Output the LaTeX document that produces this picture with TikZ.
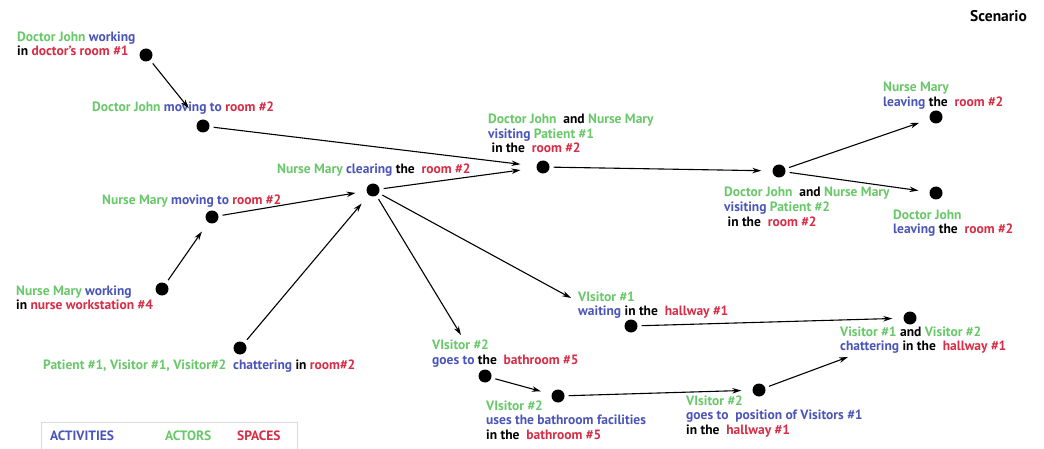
\documentclass[tikz,border=0pt]{standalone}
\usepackage{fontspec}
\setmainfont{PT Sans}
\usetikzlibrary{arrows.meta}
\definecolor{actorgreen}{RGB}{105,200,105}
\definecolor{actblue}{RGB}{75,85,185}
\definecolor{spacered}{RGB}{215,45,70}
\newcommand{\actr}[1]{\textcolor{actorgreen}{#1}}
\newcommand{\actv}[1]{\textcolor{actblue}{#1}}
\newcommand{\spce}[1]{\textcolor{spacered}{#1}}
\tikzset{
  event/.style={circle,fill=black,inner sep=0pt,minimum size=13pt},
  lbl/.style={anchor=base west,align=left,inner sep=0pt,font=\fontsize{13.5}{14.5}\selectfont\bfseries},
  flow/.style={-{Stealth[length=9pt,width=5.5pt]},line width=1.1pt,shorten <=4pt,shorten >=11pt}
}
\begin{document}
\begin{tikzpicture}[x=1pt,y=-1pt]
 \useasboundingbox[fill=white] (0,0) rectangle (1044,449);
 \node[event] (dw) at (146,55) {};
 \node[event] (dm) at (203,126) {};
 \node[event] (vp1) at (543,167) {};
 \node[event] (nc) at (373,190) {};
 \node[event] (nm) at (212,217) {};
 \node[event] (nw) at (162,289) {};
 \node[event] (pc) at (240,348) {};
 \node[event] (vp2) at (779,171) {};
 \node[event] (nl) at (936,117) {};
 \node[event] (dl) at (936,193) {};
 \node[event] (vw) at (631,326) {};
 \node[event] (vb) at (485,376) {};
 \node[event] (vu) at (558,396) {};
 \node[event] (vg) at (759,390) {};
 \node[event] (vc) at (910,318) {};
 \coordinate (tvw) at (571,298);
 \coordinate (tvb) at (461,335);
 \coordinate (tvc) at (848,357);
 \node[lbl] (ldw) at (17,56) {\actr{Doctor John} \actv{working}\\in \spce{doctor’s room \#1}};
 \node[lbl] (ldm) at (92,112) {\actr{Doctor John} \actv{moving to} \spce{room \#2}};
 \node[lbl] (lvp1) at (488,153) {\actr{Doctor John} \ and \actr{Nurse Mary}\\\actv{visiting} \actr{Patient \#1}\\ \ in the \ \spce{room \#2}};
 \node[lbl] (lnc) at (277,174) {\actr{Nurse Mary} \actv{clearing} the \ \spce{room \#2}};
 \node[lbl] (lnm) at (102,205) {\actr{Nurse Mary} \actv{moving to} \spce{room \#2}};
 \node[lbl] (lnw) at (16,309.5) {\actr{Nurse Mary} \actv{working}\\in \spce{nurse workstation \#4}};
 \node[lbl] (lpc) at (43,369) {\actr{Patient \#1, Visitor \#1, Visitor\#2} \ \actv{chattering} in \spce{room\#2}};
 \node[lbl] (lvp2) at (724,226) {\actr{Doctor John} \ and \actr{Nurse Mary}\\\actv{visiting} \actr{Patient \#2}\\ \ in the \ \spce{room \#2}};
 \node[lbl] (lnl) at (883,106.5) {\actr{Nurse Mary}\\\actv{leaving} the \ \spce{room \#2}};
 \node[lbl] (ldl) at (893,233.5) {\actr{Doctor John}\\\actv{leaving} the \ \spce{room \#2}};
 \node[lbl] (lvw) at (578,315.5) {\actr{VIsitor \#1}\\\actv{waiting} in the \ \spce{hallway \#1}};
 \node[lbl] (lvb) at (432,364) {\actr{VIsitor \#2}\\\actv{goes to} the \ \spce{bathroom \#5}};
 \node[lbl] (lvu) at (486,439) {\actr{VIsitor \#2}\\\actv{uses the bathroom facilities}\\in the \ \spce{bathroom \#5}};
 \node[lbl] (lvg) at (686,434) {\actr{VIsitor \#2}\\\actv{goes to \ position of Visitors \#1}\\in the \ \spce{hallway \#1}};
 \node[lbl] (lvc) at (840,350.5) {\actr{Visitor \#1} and \actr{Visitor \#2}\\\actv{chattering} in the \ \spce{hallway \#1}};
 \node[lbl,font=\fontsize{15.5}{17}\selectfont\bfseries] (ttl) at (970,22) {Scenario};
 \draw[black!15,line width=0.8pt] (41,452) -- (41,422) -- (297,422) -- (297,452);
 \node[lbl,text=actblue] (kact) at (50,440) {ACTIVITIES};
 \node[lbl,text=actorgreen] (kactr) at (165,440) {ACTORS};
 \node[lbl,text=spacered] (kspc) at (237,440) {SPACES};
 \draw[flow,shorten >=16pt] (dw) -- (dm);
 \draw[flow,shorten >=16pt] (dm) -- (vp1);
 \draw[flow] (nw) -- (nm);
 \draw[flow] (nm) -- (nc);
 \draw[flow] (pc) -- (nc);
 \draw[flow,shorten >=16pt] (nc) -- (vp1);
 \draw[flow] (vp1) -- (vp2);
 \draw[flow] (vp2) -- (nl);
 \draw[flow] (vp2) -- (dl);
 \draw[flow,shorten >=0pt] (nc) -- (tvb);
 \draw[flow,shorten >=0pt] (nc) -- (tvw);
 \draw[flow] (vb) -- (vu);
 \draw[flow] (vu) -- (vg);
 \draw[flow,shorten >=0pt] (vg) -- (tvc);
 \draw[flow] (vw) -- (vc);
\end{tikzpicture}
\end{document}
